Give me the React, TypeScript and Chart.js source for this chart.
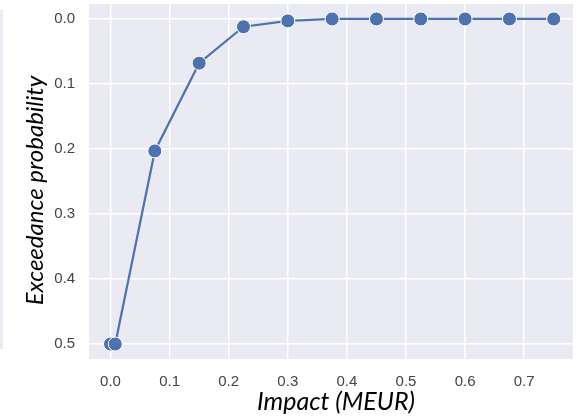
import React, { useEffect, useRef } from "react";
import { Chart, registerables } from "chart.js";

Chart.register(...registerables);

const impactValues = [0.0, 0.008, 0.075, 0.15, 0.225, 0.3, 0.375, 0.45, 0.525, 0.6, 0.675, 0.75];
const exceedanceValues = [0.5, 0.5, 0.203, 0.068, 0.012, 0.003, 0.0, 0.0, 0.0, 0.0, 0.0, 0.0];
const xTickValues = [0.0, 0.1, 0.2, 0.3, 0.4, 0.5, 0.6, 0.7];
const yTickValues = [0.0, 0.1, 0.2, 0.3, 0.4, 0.5];
const xTitle = "Impact (MEUR)";
const yTitle = "Exceedance probability";

const LINE_COLOR = "#4C72B0";
const BG = "#EAEAF2";

const bgPlugin = {
  id: "bgPlugin",
  beforeDraw(chart: any) {
    const { ctx, chartArea } = chart;
    ctx.save();
    ctx.fillStyle = BG;
    ctx.fillRect(chartArea.left, chartArea.top, chartArea.right - chartArea.left, chartArea.bottom - chartArea.top);
    ctx.restore();
  },
  afterDraw(chart: any) {
    const { ctx, chartArea } = chart;
    ctx.save();
    ctx.fillStyle = "#000";
    ctx.textAlign = "center";
    ctx.textBaseline = "alphabetic";
    ctx.font = "italic 25px Lato";
    const cx = (chartArea.left + chartArea.right) / 2 + 5;
    ctx.fillText(xTitle, cx, chartArea.bottom + 51);
    ctx.font = "italic 24px Lato";
    ctx.translate(chartArea.left - 46, (chartArea.top + chartArea.bottom) / 2 + 9);
    ctx.rotate(-Math.PI / 2);
    ctx.fillText(yTitle, 0, 0);
    ctx.restore();
  },
};

export default function App() {
  const ref = useRef<HTMLCanvasElement | null>(null);
  useEffect(() => {
    if (!ref.current) return;
    const chart = new Chart(ref.current, {
      type: "line",
      data: {
        datasets: [
          {
            data: impactValues.map((x, i) => ({ x, y: exceedanceValues[i] })),
            borderColor: LINE_COLOR,
            backgroundColor: LINE_COLOR,
            borderWidth: 2.2,
            pointRadius: 7,
            pointBorderColor: "#ffffff",
            pointBorderWidth: 1,
            pointBackgroundColor: LINE_COLOR,
            tension: 0,
            clip: false,
          },
        ],
      },
      options: {
        animation: false,
        responsive: false,
        layout: { autoPadding: false, padding: { top: 4, right: 6, left: 0, bottom: 0 } },
        plugins: { legend: { display: false }, tooltip: { enabled: false } },
        scales: {
          x: {
            type: "linear",
            min: -0.0364,
            max: 0.7826,
            border: { display: false },
            grid: { color: "#ffffff", lineWidth: 1.5, drawTicks: false },
            afterBuildTicks: (s: any) => {
              s.ticks = xTickValues.map((v) => ({ value: v }));
            },
            afterFit: (s: any) => {
              s.height = 57;
              s.paddingLeft = 0;
              s.paddingRight = 0;
            },
            ticks: {
              padding: 14,
              color: "#444444",
              font: { family: "Liberation Sans", size: 15 },
              callback: (v: any) => Number(v).toFixed(1),
            },
          },
          y: {
            type: "linear",
            reverse: true,
            min: -0.023,
            max: 0.523,
            border: { display: false },
            grid: { color: "#ffffff", lineWidth: 1.5, drawTicks: false },
            afterBuildTicks: (s: any) => {
              s.ticks = yTickValues.map((v) => ({ value: v }));
            },
            afterFit: (s: any) => {
              s.width = 89;
              s.paddingTop = 0;
              s.paddingBottom = 0;
            },
            ticks: {
              padding: 14,
              color: "#444444",
              font: { family: "Liberation Sans", size: 15 },
              callback: (v: any) => Number(v).toFixed(1),
            },
          },
        },
      },
      plugins: [bgPlugin],
    });
    return () => chart.destroy();
  }, []);
  return (
    <div style={{ position: "fixed", left: 0, top: 0, width: 579, height: 416, background: "#fff" }}>
      <div style={{ position: "absolute", left: 0, top: 10, width: 3, height: 339, background: BG }} />
      <canvas ref={ref} width={579} height={416} style={{ position: "absolute", left: 0, top: 0 }} />
    </div>
  );
}
